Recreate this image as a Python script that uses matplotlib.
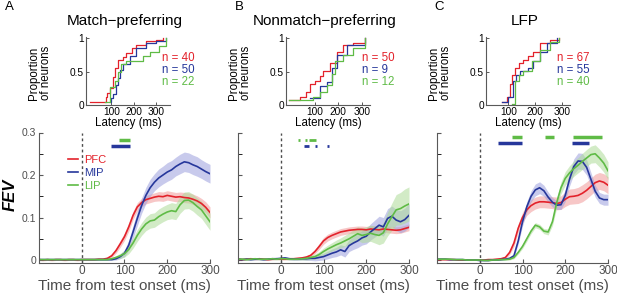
import matplotlib
matplotlib.use("Agg")
import matplotlib.pyplot as plt
import numpy as np

plt.rcParams['font.family'] = ['Liberation Sans', 'DejaVu Sans']

RED = '#e3222b'
BLUE = '#26379b'
GREEN = '#5fbb46'
RED_F = '#f19a9a'
BLUE_F = '#9c9fdd'
GREEN_F = '#addc98'

# time axis for FEV curves (ms)
t = np.arange(-100, 301, 10)

# ---- panel A: match-preferring ----
a_pfc = [0.001, 0.000, 0.001, 0.000, 0.001, 0.001, 0.000, 0.001, 0.001, 0.000, 0.001, 0.001, 0.001, 0.001, 0.002,
         0.002, 0.004, 0.010, 0.022, 0.038, 0.055, 0.078, 0.105, 0.125, 0.135, 0.142, 0.145, 0.148, 0.150, 0.149,
         0.152, 0.150, 0.148, 0.149, 0.147, 0.146, 0.143, 0.139, 0.133, 0.124, 0.112]
a_mip = [0.001] * 18 + [0.003, 0.008, 0.016, 0.035, 0.066, 0.098, 0.128, 0.152, 0.170, 0.183, 0.193, 0.200, 0.207,
                        0.212, 0.220, 0.226, 0.231, 0.229, 0.224, 0.220, 0.214, 0.208, 0.203]
a_lip = [0.001] * 17 + [0.003, 0.006, 0.010, 0.015, 0.025, 0.040, 0.058, 0.073, 0.085, 0.092, 0.094, 0.102, 0.108,
                        0.113, 0.116, 0.114, 0.130, 0.140, 0.141, 0.135, 0.126, 0.118, 0.104, 0.090]
a_pfc_sem = [0.002] * 15 + [0.002, 0.003, 0.004, 0.006, 0.008, 0.009, 0.010, 0.010, 0.010] + \
            [0.010, 0.010, 0.010, 0.010, 0.011, 0.011, 0.011, 0.011, 0.011, 0.011, 0.012, 0.012, 0.012, 0.012,
             0.012, 0.013, 0.013]
a_mip_sem = [0.002] * 18 + [0.003, 0.005, 0.008, 0.012, 0.015, 0.017, 0.018, 0.019] + \
            [0.020, 0.020, 0.021, 0.021, 0.022, 0.022, 0.022, 0.023, 0.023, 0.023, 0.023, 0.023, 0.022, 0.022, 0.022]
a_lip_sem = [0.002] * 17 + [0.003, 0.004, 0.006, 0.008, 0.010, 0.012, 0.014] + \
            [0.015, 0.016, 0.017, 0.017, 0.018, 0.018, 0.018, 0.019, 0.019, 0.020, 0.020, 0.020, 0.020, 0.020,
             0.020, 0.020, 0.020]

# ---- panel B: nonmatch-preferring ----
b_pfc = [0.002, 0.001, 0.002, 0.003, 0.002, 0.003, 0.002, 0.001, 0.002, 0.003, 0.002, 0.002, 0.003, 0.003, 0.004,
         0.005, 0.007, 0.011, 0.020, 0.032, 0.045, 0.053, 0.058, 0.062, 0.066, 0.068, 0.070, 0.071, 0.072, 0.072,
         0.071, 0.073, 0.072, 0.071, 0.073, 0.072, 0.071, 0.070, 0.071, 0.074, 0.077]
b_mip = [0.002, 0.001, 0.002, 0.001, 0.002, 0.002, 0.001, 0.002, 0.003, 0.003, 0.004,
         0.005, 0.003, 0.002, 0.002, 0.003, 0.003, 0.004, 0.004, 0.006, 0.008, 0.012, 0.016, 0.019, 0.024, 0.020,
         0.034, 0.040, 0.045, 0.052, 0.056, 0.066, 0.074, 0.082, 0.078, 0.098, 0.103, 0.094, 0.090, 0.095, 0.105]
b_lip = [0.002, 0.002, 0.001, 0.002, 0.003, 0.002, 0.002, 0.002, 0.003, 0.002, 0.003, 0.003, 0.002, 0.002, 0.002,
         0.003, 0.004, 0.006, 0.008, 0.013, 0.020, 0.026, 0.031, 0.036, 0.040, 0.045, 0.050, 0.056, 0.062, 0.058,
         0.060, 0.063, 0.060, 0.058, 0.064, 0.085, 0.102, 0.118, 0.121, 0.127, 0.132]
b_pfc_sem = [0.002] * 15 + [0.002, 0.003, 0.004, 0.005, 0.007] + [0.008] * 21
b_mip_sem = [0.002] * 11 + [0.003, 0.003, 0.003, 0.003, 0.003, 0.004, 0.005, 0.006, 0.007, 0.008, 0.009, 0.010,
                            0.011, 0.012, 0.013, 0.014, 0.015, 0.016, 0.017, 0.018, 0.019, 0.020, 0.021, 0.022,
                            0.023, 0.024, 0.025, 0.026, 0.027, 0.028]
b_lip_sem = [0.002] * 15 + [0.003, 0.004, 0.005, 0.006, 0.007, 0.008, 0.009, 0.010, 0.011, 0.012, 0.013, 0.014,
                            0.015, 0.016, 0.017, 0.018, 0.019, 0.020, 0.022, 0.024, 0.028, 0.032, 0.036, 0.038,
                            0.040, 0.040]

# ---- panel C: LFP ----
c_pfc = [0.001, 0.001, 0.001, 0.001, 0.001, 0.000, 0.000, 0.000, 0.000, 0.000, 0.000, 0.000, 0.001, 0.001, 0.002,
         0.003, 0.006, 0.018, 0.040, 0.075, 0.100, 0.118, 0.128, 0.134, 0.137, 0.137, 0.136, 0.135, 0.133, 0.135,
         0.143, 0.149, 0.150, 0.152, 0.157, 0.164, 0.173, 0.182, 0.186, 0.183, 0.176]
c_mip = [0.002, 0.002, 0.002, 0.001, 0.001, 0.001, 0.001, 0.000, 0.000, 0.000, -0.001, -0.001, -0.001, 0.000,
         0.000, 0.001, 0.002,
         0.004, 0.010, 0.045, 0.090, 0.125, 0.150, 0.165, 0.170, 0.163, 0.148, 0.136, 0.129, 0.130, 0.152, 0.190,
         0.220, 0.233, 0.232, 0.218, 0.190, 0.162, 0.146, 0.142, 0.142]
c_lip = [0.002, 0.002, 0.002, 0.002, 0.001, 0.001, 0.001, 0.000, 0.000, 0.000, 0.000, -0.001, -0.001, 0.000,
         0.000, 0.001, 0.001,
         0.002, 0.006, 0.018, 0.032, 0.050, 0.068, 0.082, 0.078, 0.068, 0.066, 0.090, 0.135, 0.170, 0.192, 0.205,
         0.215, 0.223, 0.232, 0.240, 0.248, 0.250, 0.240, 0.228, 0.210]
c_pfc_sem = [0.001] * 15 + [0.002, 0.003, 0.005, 0.008, 0.010, 0.012, 0.013, 0.014, 0.014, 0.014, 0.014, 0.014,
                            0.014, 0.015, 0.016, 0.017, 0.018, 0.018, 0.019, 0.020, 0.020, 0.020, 0.020, 0.020,
                            0.020, 0.020]
c_mip_sem = [0.001] * 17 + [0.002, 0.004, 0.007, 0.010, 0.012, 0.013, 0.014, 0.014, 0.013, 0.012, 0.011, 0.010,
                            0.011, 0.014, 0.016, 0.018, 0.019, 0.019, 0.018, 0.016, 0.014, 0.013, 0.013, 0.013]
c_lip_sem = [0.001] * 17 + [0.002, 0.003, 0.004, 0.005, 0.006, 0.006, 0.006, 0.006, 0.006, 0.007, 0.009, 0.012,
                            0.014, 0.016, 0.017, 0.018, 0.018, 0.019, 0.020, 0.020, 0.021, 0.021, 0.021, 0.021]

# significant-difference intervals (ms)
a_sig_green = [(87, 113)]
a_sig_blue = [(68, 113)]
b_sig_green = [(40, 44), (57, 61), (65, 83)]
b_sig_blue = [(55, 67), (80, 84), (108, 112)]
c_sig_green = [(75, 99), (153, 174), (219, 285)]
c_sig_blue = [(42, 99), (216, 255)]

# latency cumulative distributions (ms, proportion)
a_lat_pfc = ([5, 75, 82, 93, 105, 115, 129, 150, 166, 190, 210, 254, 300, 328],
             [0.05, 0.12, 0.18, 0.26, 0.42, 0.56, 0.68, 0.72, 0.78, 0.85, 0.90, 0.96, 0.98, 1.0])
a_lat_mip = ([93, 100, 107, 118, 129, 140, 151, 181, 210, 254, 299, 343],
             [0.05, 0.10, 0.17, 0.30, 0.41, 0.52, 0.61, 0.73, 0.85, 0.93, 0.96, 1.0])
a_lat_lip = ([71, 93, 115, 130, 144, 166, 210, 240, 269, 313, 343],
             [0.05, 0.27, 0.36, 0.50, 0.61, 0.66, 0.66, 0.73, 0.80, 0.88, 1.0])
b_lat_pfc = ([-10, 36, 60, 79, 100, 120, 136, 164, 193, 221, 264, 314],
             [0.07, 0.12, 0.20, 0.31, 0.36, 0.44, 0.51, 0.63, 0.80, 0.90, 0.93, 1.0])
b_lat_mip = ([79, 114, 121, 150, 171, 193, 236, 314],
             [0.11, 0.11, 0.29, 0.34, 0.55, 0.75, 0.90, 1.0])
b_lat_lip = ([-10, 93, 121, 150, 171, 186, 221, 264, 314],
             [0.08, 0.12, 0.20, 0.30, 0.46, 0.66, 0.75, 0.85, 1.0])
c_lat_pfc = ([75, 94, 106, 115, 125, 140, 156, 175, 194, 219, 256, 288],
             [0.04, 0.12, 0.31, 0.45, 0.56, 0.63, 0.68, 0.73, 0.80, 0.93, 0.98, 1.0])
c_lat_mip = ([75, 100, 119, 130, 144, 175, 194, 219, 244, 281],
             [0.04, 0.12, 0.36, 0.45, 0.51, 0.56, 0.66, 0.80, 0.93, 1.0])
c_lat_lip = ([112, 125, 140, 156, 188, 219, 256, 288],
             [0.02, 0.36, 0.45, 0.51, 0.66, 0.83, 0.95, 1.0])

titles = ['Match\u2212preferring', 'Nonmatch\u2212preferring', 'LFP']
letters = ['A', 'B', 'C']
n_labels = [['n = 40', 'n = 50', 'n = 22'], ['n = 50', 'n = 9', 'n = 12'], ['n = 67', 'n = 55', 'n = 40']]
names = ['PFC', 'MIP', 'LIP']

panels = [
    dict(means=[a_pfc, a_mip, a_lip], sems=[a_pfc_sem, a_mip_sem, a_lip_sem],
         sig=[a_sig_green, a_sig_blue], lat=[a_lat_pfc, a_lat_mip, a_lat_lip], latx=(-13, 360), nx=0.90),
    dict(means=[b_pfc, b_mip, b_lip], sems=[b_pfc_sem, b_mip_sem, b_lip_sem],
         sig=[b_sig_green, b_sig_blue], lat=[b_lat_pfc, b_lat_mip, b_lat_lip], latx=(-24, 336), nx=0.90),
    dict(means=[c_pfc, c_mip, c_lip], sems=[c_pfc_sem, c_mip_sem, c_lip_sem],
         sig=[c_sig_green, c_sig_blue], lat=[c_lat_pfc, c_lat_mip, c_lat_lip], latx=(16, 331), nx=0.845),
]

W, H = 617, 293
fig = plt.figure(figsize=(W / 100, H / 100), dpi=100)

main_left = [39, 238, 437]
ins_left = [86, 286, 486]
colors = [RED, BLUE, GREEN]
fills = [RED_F, BLUE_F, GREEN_F]

for i, p in enumerate(panels):
    ax = fig.add_axes([main_left[i] / W, 30 / H, 171 / W, 130.5 / H])
    for m, s, c, f, nm in zip(p['means'], p['sems'], colors, fills, names):
        m = np.array(m)
        s = np.array(s)
        ax.fill_between(t, m - s, m + s, color=f, alpha=0.55, lw=0)
    for m, c, nm in zip(p['means'], colors, names):
        ax.plot(t, m, color=c, lw=1.2, label=nm)
    ax.axvline(0, color='0.3', lw=1, ls=(0, (2, 2)))
    lw_sig = 2.5 if i != 1 else 2
    for (s0, s1) in p['sig'][0]:
        ax.hlines(0.283 if i != 2 else 0.289, s0, s1, color=GREEN, lw=lw_sig)
    for (s0, s1) in p['sig'][1]:
        ax.hlines(0.269 if i != 2 else 0.275, s0, s1, color=BLUE, lw=lw_sig)
    ax.set_xlim(-100, 300)
    ax.set_ylim(-0.007, 0.3)
    ax.spines['top'].set_visible(False)
    ax.spines['right'].set_visible(False)
    ax.spines['left'].set_color('0.35')
    ax.spines['bottom'].set_color('0.35')
    ax.set_xticks([0, 100, 200, 300])
    ax.set_yticks([0, 0.1, 0.2, 0.3])
    ax.set_yticks([0.05, 0.15, 0.25], minor=True)
    ax.tick_params(direction='in', length=3, width=0.8, color='0.35', labelsize=8.5, pad=1.5, labelcolor='0.3')
    ax.tick_params(axis='y', which='both', direction='in', length=3, labelsize=7.5, pad=2)
    if i == 0:
        ax.set_yticklabels(['0', '0.1', '0.2', '0.3'])
        ax.set_ylabel('FEV', fontsize=12, fontweight='bold', fontstyle='italic', va='center')
        ax.yaxis.set_label_coords(-0.17, 0.52)
        ax.legend(loc='upper left', bbox_to_anchor=(0.17, 0.83), frameon=False, fontsize=8,
                  handlelength=0.9, handletextpad=0.55, labelspacing=0.3, borderpad=0,
                  borderaxespad=0, labelcolor='linecolor')
    else:
        ax.set_yticklabels([])
    ax.set_xlabel('Time from test onset (ms)', fontsize=11, color='0.3')
    ax.xaxis.set_label_coords(0.5, -0.12)

    # latency inset
    ia = fig.add_axes([ins_left[i] / W, (H - 105) / H, 84 / W, 68 / H])
    for (lx, ly), c in zip(p['lat'], colors):
        ia.plot(lx, ly, color=c, lw=0.9, drawstyle='steps-post')
    ia.set_xlim(*p['latx'])
    ia.set_ylim(0, 1.02)
    ia.spines['top'].set_visible(False)
    ia.spines['right'].set_visible(False)
    ia.spines['left'].set_color('0.35')
    ia.spines['bottom'].set_color('0.35')
    ia.set_xticks([100, 200, 300])
    ia.set_yticks([0, 0.5, 1])
    ia.set_yticklabels(['0', '0.5', '1'])
    ia.tick_params(direction='in', length=2, width=0.7, color='0.35', labelsize=7.3, pad=1.5)
    ia.set_xlabel('Latency (ms)', fontsize=8.3)
    ia.xaxis.set_label_coords(0.5, -0.17)
    ia.set_ylabel('Proportion\nof neurons', fontsize=8.3, linespacing=1.0)
    ia.yaxis.set_label_coords(-0.40, 0.47)
    for k, (txt, c) in enumerate(zip(n_labels[i], colors)):
        ia.text(p['nx'], [0.69, 0.51, 0.34][k], txt, color=c, fontsize=8.3, va='center', ha='left',
                transform=ia.transAxes)

    fig.text((ins_left[i] + 39) / W, 1 - 21 / H, titles[i], fontsize=11, ha='center', va='center')
    fig.text((main_left[i] - 34) / W if i == 0 else (main_left[i] - 3) / W, 1 - 7 / H, letters[i],
             fontsize=9.5, ha='left', va='center')

fig.savefig('out.png', dpi=100)
